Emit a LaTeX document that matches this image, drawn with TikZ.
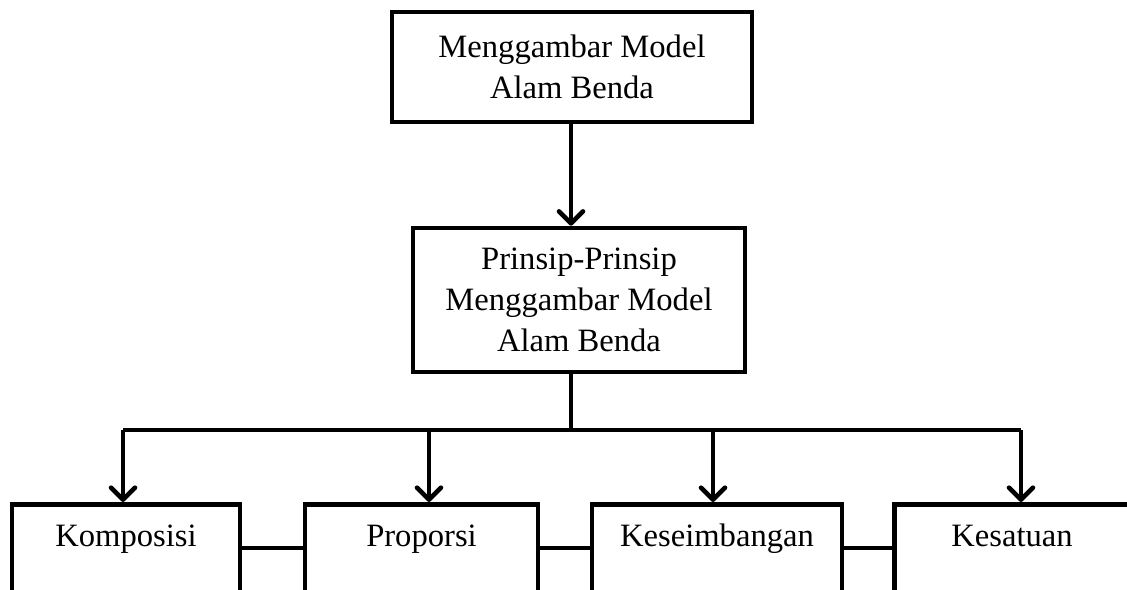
\documentclass[tikz,border=0pt]{standalone}
\usepackage{fontspec}
\setmainfont{Liberation Serif}
\usetikzlibrary{arrows.meta, positioning}

\begin{document}
\begin{tikzpicture}[
    line width=2.3pt,
box/.style  = {draw, align=center, inner sep=0pt,
               font=\fontsize{16.3}{20.5}\selectfont},
leaf/.style = {box, anchor=north, text height=21pt, text depth=50pt},
arr/.style  = {-{Straight Barb[length=6pt,width=12pt,round]}}
                        ]
\useasboundingbox (0,0) rectangle (563.5pt,-294.5pt);
\clip (0,0) rectangle (563.5pt,-294.5pt);
% upper boxes
\node (top) [box, minimum width=180pt, minimum height=55pt] at (286pt,-33.5pt)
    {Menggambar Model\\Alam Benda};
\node (mid) [box, minimum width=166pt, minimum height=72pt] at (289.5pt,-150pt)
    {Prinsip-Prinsip\\Menggambar Model\\Alam Benda};
% lower row
\node (kom) [leaf, minimum width=114pt]   at (63pt,-251pt)     {Komposisi};
\node (pro) [leaf, minimum width=116.5pt] at (210.75pt,-251pt) {Proporsi};
\node (kes) [leaf, minimum width=125pt]   at (358.5pt,-251pt)  {Keseimbangan};
\node (sat) [leaf, minimum width=117.5pt] at (506pt,-251pt)    {Kesatuan};
%
\coordinate (bus) at (285.5pt,-215pt);
\coordinate (d1)  at (61.5pt,-215pt);
\coordinate (d2)  at (214.5pt,-215pt);
\coordinate (d3)  at (356.5pt,-215pt);
\coordinate (d4)  at (510.5pt,-215pt);
%
\draw[arr] (bus |- top.south) -- (bus |- mid.north);
\draw (bus |- mid.south) -- (bus);
\draw (d1) -- (d4);
\draw[arr] (d1) -- (d1 |- kom.north);
\draw[arr] (d2) -- (d2 |- pro.north);
\draw[arr] (d3) -- (d3 |- kes.north);
\draw[arr] (d4) -- (d4 |- sat.north);
%
\draw ([yshift=-23pt] kom.north east) -- ([yshift=-23pt] pro.north west);
\draw ([yshift=-23pt] pro.north east) -- ([yshift=-23pt] kes.north west);
\draw ([yshift=-23pt] kes.north east) -- ([yshift=-23pt] sat.north west);
\end{tikzpicture}
\end{document}
